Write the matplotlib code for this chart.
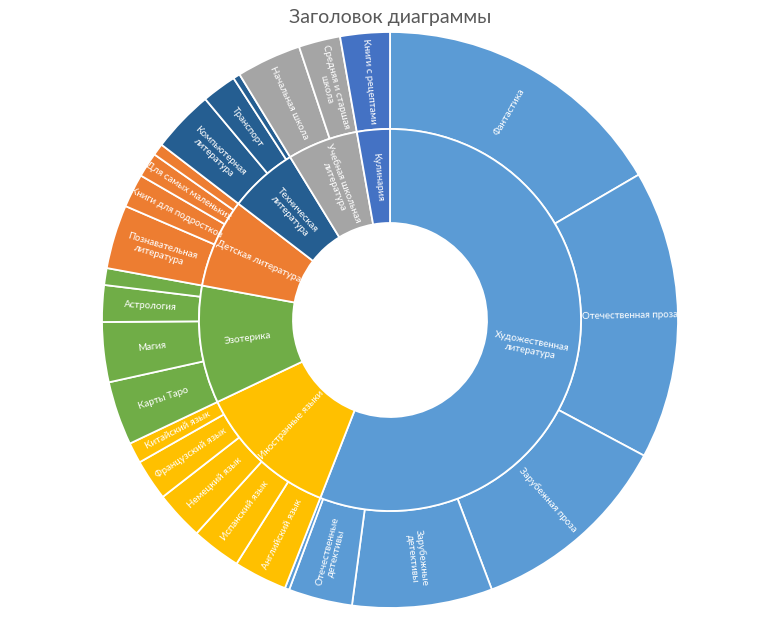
import numpy as np
import matplotlib.pyplot as plt

plt.rcParams['font.family'] = ['Lato', 'DejaVu Sans']

# inner ring: groups
groups = ['Художественная\nлитература', 'Иностранные языки', 'Эзотерика',
          'Детская литература', 'Техническая\nлитература',
          'Учебная школьная\nлитература', 'Кулинария']
group_colors = ['#5B9BD5', '#FFC000', '#70AD47', '#ED7D31', '#255E91',
                '#A5A5A5', '#4472C4']

# outer ring: items per group
fiction_labels = ['Фантастика', 'Отечественная проза', 'Зарубежная проза',
                  'Зарубежные\nдетективы', 'Отечественные\nдетективы', '']
fiction = [59.7, 58.4, 41.2, 28.3, 12.9, 0.9]

lang_labels = ['Английский язык', 'Испанский язык', 'Немецкий язык',
               'Французский язык', 'Китайский язык']
lang = [10.8, 10.0, 9.9, 8.3, 4.2]

esoteric_labels = ['Карты Таро', 'Магия', 'Астрология', '']
esoteric = [12.9, 12.1, 7.4, 3.4]

kids_labels = ['Познавательная\nлитература', 'Книги для подростков',
               'Для самых маленьких', '']
kids = [12.9, 6.8, 5.0, 2.4]

tech_labels = ['Компьютерная\nлитература', 'Транспорт', '']
tech = [12.6, 7.0, 1.4]

school_labels = ['Начальная школа', 'Средняя и старшая\nшкола']
school = [13.1, 8.4]

cook_labels = ['Книги с рецептами']
cook = [10.0]

children = [fiction, lang, esoteric, kids, tech, school, cook]
children_labels = [fiction_labels, lang_labels, esoteric_labels, kids_labels,
                   tech_labels, school_labels, cook_labels]

group_values = [sum(c) for c in children]
leaf_values = [v for c in children for v in c]
leaf_labels = [l for c in children_labels for l in c]
leaf_colors = [group_colors[i] for i, c in enumerate(children) for _ in c]

W, H = 774, 618
CX, CY = 390, 320
R = 288.0
R_MID = 191.0
R_IN = 97.0

fig = plt.figure(figsize=(W / 100, H / 100), dpi=100)
ax = fig.add_axes([0, 0, 1, 1])

wp = dict(edgecolor='white', linewidth=1.3)
ax.pie(leaf_values, radius=1.0, colors=leaf_colors, startangle=90,
       counterclock=False, wedgeprops=dict(width=(R - R_MID) / R, **wp))
ax.pie(group_values, radius=R_MID / R, colors=group_colors, startangle=90,
       counterclock=False, wedgeprops=dict(width=(R_MID - R_IN) / R, **wp))

ax.set_xlim(-CX / R, (W - CX) / R)
ax.set_ylim(-(H - CY) / R, CY / R)
ax.set_aspect('equal')
ax.axis('off')


def label_ring(values, labels, r):
    total = sum(values)
    cum = 0.0
    for v, lab in zip(values, labels):
        mid = 90 - 360 * (cum + v / 2) / total
        cum += v
        if not lab:
            continue
        rot = mid
        while rot <= -90:
            rot += 180
        while rot > 90:
            rot -= 180
        t = np.deg2rad(mid)
        ax.text(r * np.cos(t), r * np.sin(t), lab, rotation=rot,
                rotation_mode='anchor', ha='center', va='center',
                color='white', fontsize=7, linespacing=1.1)


label_ring(leaf_values, leaf_labels, (R + R_MID) / 2 / R)
label_ring(group_values, groups, (R_MID + R_IN) / 2 / R)

fig.text(CX / W, 1 - 17 / H, 'Заголовок диаграммы', ha='center', va='center',
         fontsize=14, color='#595959')

fig.savefig('out.png', dpi=100)
